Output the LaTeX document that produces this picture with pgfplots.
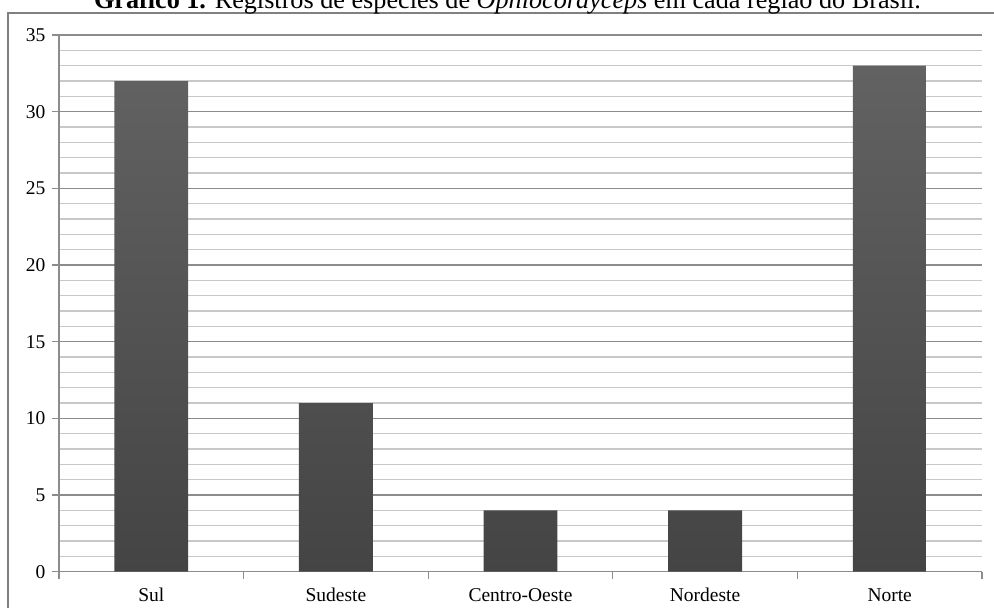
\documentclass[border=0pt]{standalone}
\usepackage{fontspec}
\setmainfont{Liberation Serif}
\usepackage{pgfplots}
\pgfplotsset{compat=1.18}
\definecolor{majgrid}{HTML}{8C8C8C}
\definecolor{mingrid}{HTML}{C8C8C8}
\definecolor{bartop}{HTML}{626262}
\definecolor{barbot}{HTML}{444444}
\definecolor{frame}{HTML}{808080}
\begin{document}
\begin{tikzpicture}
\begin{axis}[
  scale only axis,
  width=923pt, height=536.7pt,
  xmin=-0.5, xmax=4.5,
  ymin=0, ymax=35,
  axis x line*=bottom,
  axis y line*=left,
  axis line style={draw=majgrid, line width=1.2pt},
  xtick={0,1,2,3,4},
  xticklabels={Sul,Sudeste,Centro-Oeste,Nordeste,Norte},
  x tick style={draw=none},
  extra x ticks={-0.5,0.5,1.5,2.5,3.5,4.5},
  extra x tick labels={},
  extra x tick style={x tick style={draw=majgrid, line width=1.2pt}, major tick length=7pt, tick align=outside},
  ytick={0,5,...,35},
  minor ytick={0,1,...,35},
  ymajorgrids, yminorgrids,
  major grid style={draw=majgrid, line width=1.2pt},
  minor grid style={draw=mingrid, line width=1.2pt},
  y tick style={draw=majgrid, line width=1.2pt},
  major tick length=7pt,
  minor tick length=0pt,
  tick align=outside,
  tick label style={font=\fontsize{19.5}{22}\selectfont},
  /pgf/number format/assume math mode=true,
  yticklabel style={xshift=-3pt},
  xticklabel style={text height=13pt, text depth=0pt, yshift=-6pt},
  axis on top=false,
  clip=false,
]
\addplot[ybar, bar width=0.4, draw=none, top color=bartop, bottom color=barbot, shading angle=0]
  coordinates {(0,32) (1,11) (2,4) (3,4) (4,33)};
\end{axis}
\draw[frame, line width=1.5pt] (-51pt,-60pt) rectangle (960pt,558.7pt);
\node[anchor=base, font=\fontsize{26.2}{30}\selectfont, inner sep=0pt] at (448.5pt,563.2pt)
  {\textbf{Gráfico 1.} Registros de espécies de \textit{Ophiocordyceps} em cada região do Brasil.};
\pgfresetboundingbox
\useasboundingbox (-59pt,-36.3pt) rectangle (935pt,571.7pt);
\end{tikzpicture}
\end{document}
